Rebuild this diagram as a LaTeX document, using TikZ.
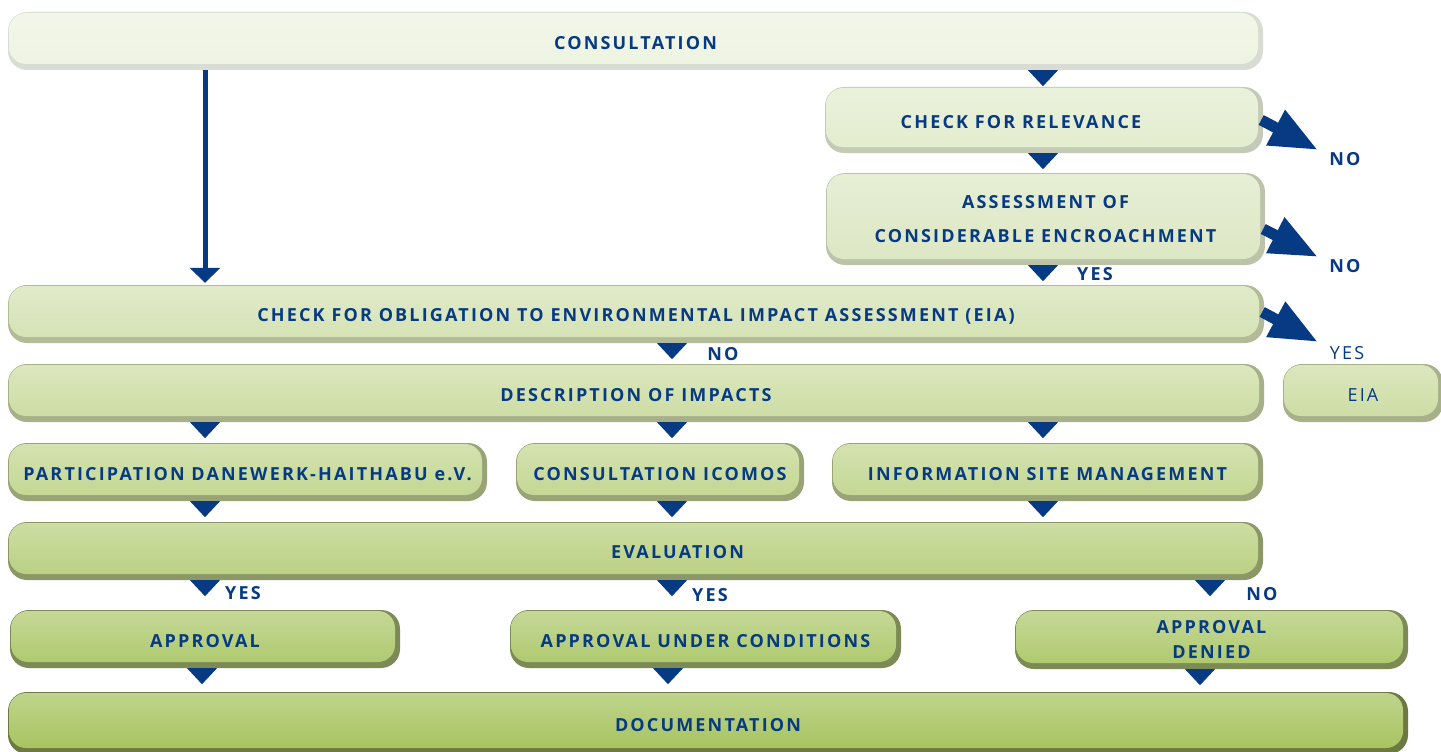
\documentclass[tikz,border=0pt]{standalone}
\usepackage{fontspec}
\newfontfamily\boxfont{Open Sans}[LetterSpace=12]
\usetikzlibrary{arrows.meta}
\definecolor{navy}{HTML}{063A82}
\definecolor{c1}{HTML}{EDF3E0}\definecolor{e1}{HTML}{D8DCD2}
\definecolor{c2}{HTML}{E2ECCD}\definecolor{e2}{HTML}{C5CAB6}
\definecolor{c3}{HTML}{DCE7C3}\definecolor{e3}{HTML}{BCC3A8}
\definecolor{c4}{HTML}{D4E2B3}\definecolor{e4}{HTML}{B2BA98}
\definecolor{c5}{HTML}{CCDCA2}\definecolor{e5}{HTML}{A7B089}
\definecolor{c6}{HTML}{C2D690}\definecolor{e6}{HTML}{98A475}
\definecolor{c7}{HTML}{B8CF7E}\definecolor{e7}{HTML}{8B9767}
\definecolor{c8}{HTML}{ADC86B}\definecolor{e8}{HTML}{7C8A55}
\definecolor{c9}{HTML}{A5C25C}\definecolor{e9}{HTML}{6C7942}
\tikzset{
  txt/.style={text=navy, inner sep=0pt, align=center, font=\boxfont\bfseries\fontsize{18}{21}\selectfont},
  thin/.style={txt, font=\boxfont\fontsize{18}{21}\selectfont},
  box/.style 2 args={txt, text height=17pt, rounded corners=19pt, fill=#2,
    path picture={\fill[top color=#1!70!white, middle color=#1, bottom color=#1, rounded corners=17pt]
      ([shift={(1pt,-1pt)}]path picture bounding box.north west) rectangle
      ([shift={(-5pt,6pt)}]path picture bounding box.south east);}},
  bigarr/.style={navy, line width=11pt, -{Triangle[length=48pt,width=37pt]}},
  longarr/.style={navy, line width=5pt, -{Triangle[length=15pt,width=30pt]}, shorten >=2pt},
}
\newcommand{\dtri}[2]{\fill[navy] (#1,0 |- #2.south) ++(-15,0) -- ++(30,0) -- ++(-15,16) -- cycle;}
\begin{document}
\begin{tikzpicture}[x=1pt, y=-1pt]
\useasboundingbox (0,0) rectangle (1441,752);
% boxes
\node[box={c1}{e1}, minimum width=1255, minimum height=58] (cons) at (635.5,41) {CONSULTATION};
\node[box={c2}{e2}, minimum width=438, minimum height=66] (rel) at (1044,120) {};
\node[txt] (reltxt) at ([xshift=-23pt,yshift=-2pt]rel.center) {CHECK FOR RELEVANCE};
\node[box={c3}{e3}, minimum width=439, minimum height=92, text height={}] (ass) at (1045.5,219)
  {ASSESSMENT OF\\[13pt]CONSIDERABLE ENCROACHMENT};
\node[box={c4}{e4}, minimum width=1256, minimum height=58] (obl) at (636,314)
  {CHECK FOR OBLIGATION TO ENVIRONMENTAL IMPACT ASSESSMENT (EIA)};
\node[box={c5}{e5}, minimum width=1256, minimum height=58] (desc) at (636,393) {DESCRIPTION OF IMPACTS};
\node[box={c5}{e5}, minimum width=160, minimum height=58, font=\boxfont\fontsize{18}{21}\selectfont] (eia) at (1363,393) {EIA};
\node[box={c6}{e6}, minimum width=479, minimum height=58] (part) at (247.5,472) {PARTICIPATION DANEWERK-HAITHABU e.V.};
\node[box={c6}{e6}, minimum width=288, minimum height=58] (icomos) at (660,472) {CONSULTATION ICOMOS};
\node[box={c6}{e6}, minimum width=431, minimum height=58] (info) at (1047.5,472) {INFORMATION SITE MANAGEMENT};
\node[box={c7}{e7}, minimum width=1255, minimum height=58] (eval) at (635.5,551) {};
\node[txt] (evaltxt) at ([xshift=42pt,yshift=-1pt]eval.center) {EVALUATION};
\node[box={c8}{e8}, minimum width=390, minimum height=58] (appr) at (205,639) {APPROVAL};
\node[box={c8}{e8}, minimum width=391, minimum height=58] (cond) at (705.5,639) {APPROVAL UNDER CONDITIONS};
\node[box={c8}{e8}, minimum width=393, minimum height=59, text height={}] (denied) at (1211.5,639.5) {APPROVAL\\[4pt]DENIED};
\node[box={c9}{e9}, minimum width=1400, minimum height=62] (doc) at (708,723) {DOCUMENTATION};

% arrows
\draw[longarr] (205,0 |- cons.south) -- (205,0 |- obl.north);
\coordinate (relend) at (1318,150);
\coordinate (assend) at (1318,257);
\coordinate (oblend) at (1318,342);
\draw[bigarr] ([xshift=-2pt]rel.east) -- (relend);
\draw[bigarr] ([xshift=-2pt,yshift=-10pt]ass.east) -- (assend);
\draw[bigarr] ([xshift=-2pt,yshift=2pt]obl.east) -- (oblend);
\dtri{1043}{cons}
\dtri{1043}{rel}
\dtri{1043}{ass}
\dtri{672}{obl}
\foreach \x in {205,672,1043}
{
    \dtri{\x}{desc}
}
\dtri{205}{part}
\dtri{672}{icomos}
\dtri{1043}{info}
\foreach \x in {205,672,1210}
{
    \dtri{\x}{eval}
}
\dtri{202}{appr}
\dtri{668}{cond}
\dtri{1200}{denied}

% labels
\node[txt] (norel) at (1345,159) {NO};
\node[txt] (noass) at (1345,266) {NO};
\node[thin] (yesobl) at (1347,353) {YES};
\node[txt] (yesass) at (1095,274) {YES};
\node[txt] (noobl) at (723,354) {NO};
\node[txt] (yesappr) at (243,593) {YES};
\node[txt] (yescond) at (710,595) {YES};
\node[txt] (nodenied) at (1262,594) {NO};
\end{tikzpicture}
\end{document}
